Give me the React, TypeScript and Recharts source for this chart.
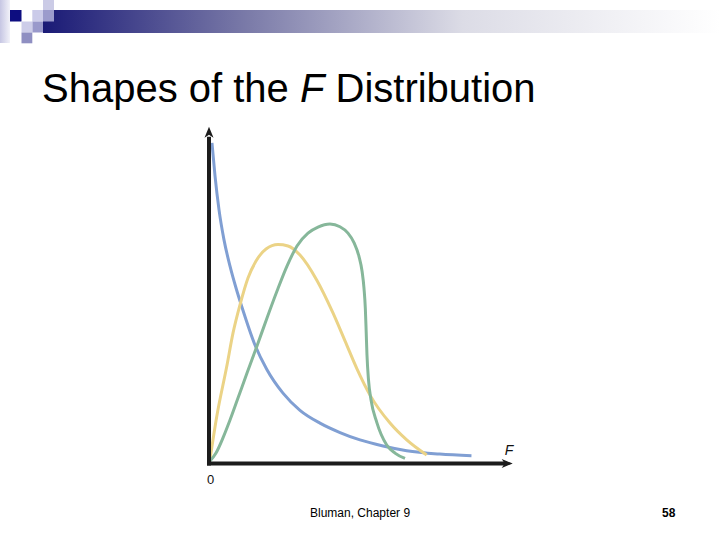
import React from 'react';
import { LineChart, Line, XAxis, YAxis, ReferenceLine, ReferenceDot } from 'recharts';

// F values (x) and density values (y)
const blueF = [0.049, 0.099, 0.165, 0.247, 0.346, 0.445, 0.543, 0.757, 0.95, 1.218, 1.498, 1.827, 2.157, 2.486, 2.865, 3.255, 3.799, 4.321];
const blueDensity = [0.952, 0.854, 0.753, 0.664, 0.586, 0.521, 0.464, 0.352, 0.28, 0.209, 0.158, 0.12, 0.092, 0.07, 0.052, 0.038, 0.028, 0.023];

const yellowF = [0.012, 0.127, 0.291, 0.395, 0.51, 0.642, 0.774, 0.939, 1.136, 1.301, 1.498, 1.773, 2.041, 2.239, 2.436, 2.651, 2.98, 3.255, 3.584];
const yellowDensity = [0.007, 0.139, 0.287, 0.387, 0.471, 0.551, 0.601, 0.637, 0.65, 0.646, 0.619, 0.545, 0.447, 0.364, 0.281, 0.203, 0.12, 0.07, 0.025];

const greenF = [0.016, 0.115, 0.23, 0.346, 0.461, 0.626, 0.79, 0.955, 1.12, 1.284, 1.449, 1.63, 1.795, 1.992, 2.156, 2.288, 2.387, 2.469, 2.52, 2.552, 2.574, 2.588, 2.601, 2.626, 2.667, 2.761, 2.926, 3.062, 3.227];
const greenDensity = [0.007, 0.031, 0.076, 0.129, 0.186, 0.269, 0.349, 0.432, 0.512, 0.586, 0.646, 0.684, 0.702, 0.711, 0.703, 0.684, 0.656, 0.615, 0.571, 0.52, 0.46, 0.39, 0.322, 0.248, 0.189, 0.123, 0.055, 0.031, 0.015];

const xDomain: [number, number] = [0, 5];
const yDomain: [number, number] = [0, 1];

const titleBefore = 'Shapes of the ';
const titleItalic = 'F';
const titleAfter = ' Distribution';
const footerText = 'Bluman, Chapter 9';
const pageNumber = '58';
const axisLabelX = 'F';
const originLabel = '0';

const zip = (xs: number[], ys: number[]) => xs.map((x, i) => ({ x, y: ys[i] }));
const bluePts = zip(blueF, blueDensity);
const yellowPts = zip(yellowF, yellowDensity);
const greenPts = zip(greenF, greenDensity);

const AXIS = '#1c1c1c';
const FONT = '"Liberation Sans", Arial, sans-serif';

const cells: { x: number; y: number; w: number; h: number; c: string }[] = [
  { x: 10, y: 10, w: 11.5, h: 11.5, c: '#0d0d80' },
  { x: 43, y: 0, w: 11, h: 10, c: '#cbcbe6' },
  { x: 43, y: 10, w: 11, h: 11.5, c: '#9b9bcc' },
  { x: 32.3, y: 10, w: 10.7, h: 11.5, c: '#cbcbe9' },
  { x: 32.3, y: 21.5, w: 10.7, h: 11, c: '#9999cb' },
  { x: 21.5, y: 21.5, w: 10.8, h: 11, c: '#cdcde9' },
  { x: 21.5, y: 32.5, w: 10.8, h: 10.8, c: '#8f8fc2' },
];

export default function App() {
  return (
    <div style={{ position: 'absolute', left: 0, top: 0, width: 720, height: 540, background: '#fff', overflow: 'hidden' }}>
      <svg width={720} height={540} style={{ position: 'absolute', left: 0, top: 0 }}>
        <defs>
          <linearGradient id="bar" x1="0" x2="1" y1="0" y2="0">
            <stop offset="0%" stopColor="#1a1a76" />
            <stop offset="30%" stopColor="#7a7aa8" />
            <stop offset="62%" stopColor="#dcdce6" />
            <stop offset="100%" stopColor="#ffffff" />
          </linearGradient>
          <linearGradient id="strip" x1="0" x2="1" y1="0" y2="0">
            <stop offset="0%" stopColor="#c6c6e3" />
            <stop offset="100%" stopColor="#f2f2f9" />
          </linearGradient>
        </defs>
        <rect x={43} y={10} width={677} height={23} fill="url(#bar)" />
        <rect x={0} y={0} width={10} height={43} fill="url(#strip)" />
        {cells.map((c, i) => (
          <rect key={i} x={c.x} y={c.y} width={c.w} height={c.h} fill={c.c} />
        ))}
        <text x={42} y={102} fontFamily={FONT} fontSize={40} fill="#000">
          {titleBefore}
          <tspan fontStyle="italic">{titleItalic}</tspan>
          {titleAfter}
        </text>
        <text x={310} y={517} fontFamily={FONT} fontSize={12} fill="#000">{footerText}</text>
        <text x={662} y={517} fontFamily={FONT} fontSize={12} fontWeight="bold" fill="#000">{pageNumber}</text>
      </svg>
      <div style={{ position: 'absolute', left: 0, top: 0 }}>
        <LineChart width={720} height={540} margin={{ top: 126.7, right: 207.3, bottom: 76.5, left: 209 }}>
          <XAxis dataKey="x" type="number" domain={xDomain} allowDataOverflow hide />
          <YAxis dataKey="y" type="number" domain={yDomain} allowDataOverflow hide />
          <Line data={bluePts} dataKey="y" type="monotone" stroke="#809fd3" strokeWidth={3} dot={false} isAnimationActive={false} />
          <Line data={yellowPts} dataKey="y" type="monotone" stroke="#ebd386" strokeWidth={3} dot={false} isAnimationActive={false} />
          <Line data={greenPts} dataKey="y" type="monotone" stroke="#86b79a" strokeWidth={3} dot={false} isAnimationActive={false} />
          <ReferenceLine segment={[{ x: -0.033, y: 0 }, { x: 4.9, y: 0 }]} stroke={AXIS} strokeWidth={4} ifOverflow="visible" />
          <ReferenceLine segment={[{ x: 0, y: -0.006 }, { x: 0, y: 0.97 }]} stroke={AXIS} strokeWidth={4} ifOverflow="visible" />
          <ReferenceDot
            x={5}
            y={0}
            ifOverflow="visible"
            shape={(p: any) => (
              <g>
                <path d={`M${p.cx},${p.cy} L${p.cx - 11},${p.cy - 4.5} L${p.cx - 8},${p.cy} L${p.cx - 11},${p.cy + 4.5} Z`} fill={AXIS} />
                <text x={p.cx - 8} y={p.cy - 9} fontFamily={FONT} fontSize={14} fontStyle="italic" fill="#111">{axisLabelX}</text>
              </g>
            )}
          />
          <ReferenceDot
            x={0}
            y={1}
            ifOverflow="visible"
            shape={(p: any) => (
              <path d={`M${p.cx},${p.cy} L${p.cx - 4.5},${p.cy + 11} L${p.cx},${p.cy + 8} L${p.cx + 4.5},${p.cy + 11} Z`} fill={AXIS} />
            )}
          />
          <ReferenceDot
            x={0}
            y={0}
            ifOverflow="visible"
            shape={(p: any) => (
              <text x={p.cx - 2} y={p.cy + 20} fontFamily={FONT} fontSize={13} fill="#111">{originLabel}</text>
            )}
          />
        </LineChart>
      </div>
    </div>
  );
}
